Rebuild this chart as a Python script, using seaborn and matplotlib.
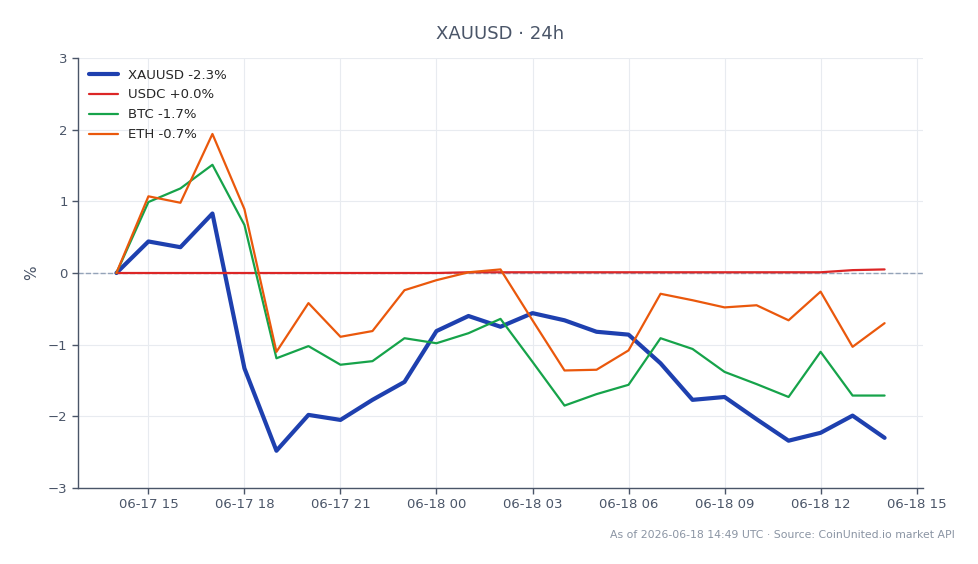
import pandas as pd
import matplotlib.pyplot as plt
import matplotlib.dates as mdates
import seaborn as sns

# Hourly % change over the last 24h
times = pd.date_range('2026-06-17 14:00', '2026-06-18 14:00', freq='h')

xauusd = [0.00, 0.44, 0.36, 0.83, -1.33, -2.48, -1.98, -2.05, -1.77, -1.52,
          -0.81, -0.60, -0.75, -0.56, -0.66, -0.82, -0.86, -1.26, -1.77, -1.73,
          -2.04, -2.34, -2.23, -1.99, -2.30]
usdc = [0.00, 0.00, 0.00, 0.00, 0.00, 0.00, 0.00, 0.00, 0.00, 0.00,
        0.00, 0.01, 0.01, 0.01, 0.01, 0.01, 0.01, 0.01, 0.01, 0.01,
        0.01, 0.01, 0.01, 0.04, 0.05]
btc = [0.00, 0.99, 1.18, 1.51, 0.67, -1.19, -1.02, -1.28, -1.23, -0.91,
       -0.98, -0.84, -0.64, -1.24, -1.85, -1.69, -1.56, -0.91, -1.06, -1.38,
       -1.55, -1.73, -1.10, -1.71, -1.71]
eth = [0.00, 1.07, 0.98, 1.94, 0.89, -1.10, -0.42, -0.89, -0.81, -0.24,
       -0.10, 0.01, 0.05, -0.66, -1.36, -1.35, -1.08, -0.29, -0.38, -0.48,
       -0.45, -0.66, -0.26, -1.03, -0.70]

labels = ['XAUUSD -2.3%', 'USDC +0.0%', 'BTC -1.7%', 'ETH -0.7%']
series = [xauusd, usdc, btc, eth]
colors = ['#1e40af', '#dc2626', '#16a34a', '#ea580c']
widths = [3.0, 1.6, 1.6, 1.6]

sns.set_style("whitegrid", {'grid.color': '#e8ebf0'})
plt.rcParams['font.family'] = ['DejaVu Sans']
text_color = '#4a5568'

fig = plt.figure(figsize=(9.79, 5.64), dpi=100)
ax = fig.add_axes([78 / 979, 1 - 488 / 564, (923 - 78) / 979, (488 - 58) / 564])

ax.axhline(0, color='#94a3b8', lw=1, ls='--', zorder=1)

for vals, lab, col, lw in zip(series, labels, colors, widths):
    df = pd.DataFrame({'time': times, 'pct': vals})
    sns.lineplot(data=df, x='time', y='pct', ax=ax, color=col, lw=lw, label=lab, zorder=3)

ax.set_ylim(-3, 3)
ax.set_yticks([-3, -2, -1, 0, 1, 2, 3])
ax.set_yticklabels(['\u22123', '\u22122', '\u22121', '0', '1', '2', '3'])
ax.xaxis.set_major_locator(mdates.HourLocator(byhour=[0, 3, 6, 9, 12, 15, 18, 21]))
ax.xaxis.set_major_formatter(mdates.DateFormatter('%m-%d %H'))

ax.set_xlabel('')
ax.set_ylabel('%', color=text_color, fontsize=11, labelpad=6)
ax.set_title('XAUUSD \u00b7 24h', color=text_color, fontsize=13, pad=14)
ax.tick_params(colors=text_color, labelsize=9.5, length=4, width=1)
ax.tick_params(axis='both', which='major', left=True, bottom=True)

for side in ['top', 'right']:
    ax.spines[side].set_visible(False)
for side in ['left', 'bottom']:
    ax.spines[side].set_color('#4a5568')
    ax.spines[side].set_linewidth(1)

ax.legend(loc='upper left', frameon=False, fontsize=9.5, handlelength=2.2,
          labelspacing=0.52, borderaxespad=0.4)

fig.text(955 / 979, 1 - 535 / 564, 'As of 2026-06-18 14:49 UTC \u00b7 Source: CoinUnited.io market API',
         ha='right', va='center', fontsize=7.8, color='#8a94a3')

fig.savefig('out.png', dpi=100)
